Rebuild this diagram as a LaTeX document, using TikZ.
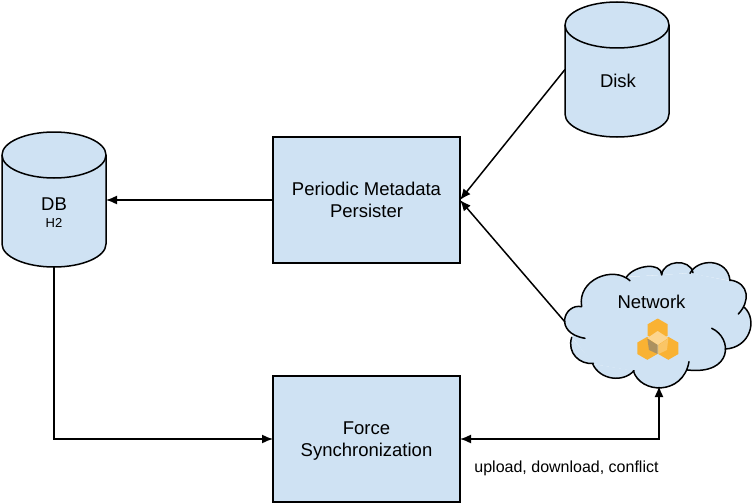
\documentclass[tikz,border=0pt]{standalone}
\usepackage{fontspec}
\setmainfont{Liberation Sans}
\usepackage[dvipsnames]{xcolor}
\usetikzlibrary{arrows.meta,positioning}
\definecolor{boxblue}{HTML}{CFE2F3}
\definecolor{hexorange}{HTML}{F9B233}
\newcommand{\cloudarcs}{
  (581.7,306.7) .. controls (564,303) and (553,333) .. (585,338.3)
  (571.7,337.3) .. controls (566.7,353) and (580,365) .. (593.3,363.3)
  (592.7,364) .. controls (600,380) and (623,383) .. (634,370.7)
  (633.3,370.7) .. controls (640,394) and (683,396) .. (689,361.7)
  (687.7,370) .. controls (733,375) and (733,338) .. (711.7,328.3)
  (725,349) .. controls (750,348) and (758,320) .. (744.3,307.3)
  (730,280) .. controls (750,283) and (750,302) .. (738.3,314)
  (690,273.3) .. controls (698,258) and (728,258) .. (730,280.7)
  (661.7,275) .. controls (663,260) and (690,258) .. (693,272.7)
  (626.7,276.7) .. controls (635,265) and (661.7,261.7) .. (661.7,275)
  (581.7,306.7) .. controls (576.7,280) and (613,265) .. (630,280.7)
}

\begin{document}
\begin{tikzpicture}[x=1pt, y=-1pt,
  procbox/.style={draw=black, fill=boxblue, line width=1.5pt, minimum width=187pt, minimum height=126pt, align=center, text depth=0pt, font=\fontsize{18.5pt}{22pt}\selectfont, outer sep=0pt, inner sep=0pt},
  storebox/.style={minimum width=104pt, minimum height=135pt, outer sep=0pt, inner sep=0pt},
  storeline/.style={draw=black, fill=boxblue, line width=1.5pt},
  lbl/.style={font=\fontsize{18.5pt}{22pt}\selectfont},
  sublbl/.style={font=\fontsize{13pt}{15pt}\selectfont},
  flow/.style={line width=1.5pt, -{Latex[length=11pt,width=9pt]}},
  puff/.style={line width=1.5pt, line cap=round},
  hexa/.style={fill=hexorange}]

\useasboundingbox (0,0) rectangle (752,503);

\node[procbox] (persister) at (366.5,200) {Periodic Metadata\\Persister};
\node[procbox] (force) at (366.5,439) {Force\\Synchronization};

\node[storebox] (db) at (54,199.5) {};
\node[storebox] (disk) at (617,69.5) {};

\foreach \s in {db,disk} {
  \draw[storeline] ([yshift=-23pt]\s.north west) -- ([yshift=23pt]\s.south west)
    arc[start angle=180, end angle=360, x radius=52pt, y radius=23pt]
    -- ([yshift=-23pt]\s.north east)
    arc[start angle=0, end angle=180, x radius=52pt, y radius=23pt] -- cycle;
  \draw[line width=1.5pt] ([yshift=-23pt]\s.north west)
    arc[start angle=180, end angle=360, x radius=52pt, y radius=23pt];
}

\node[lbl] (dblbl) at (54,204) {DB};
\node[sublbl] (dbsub) at (54,222.5) {H2};
\node[lbl] (disklbl) at (618,81) {Disk};

% cloud
\fill[boxblue] (582,307) -- (627,277) -- (662,275) -- (690,273) -- (730,281) -- (744,307) -- (745,330) -- (725,349) -- (688,370) -- (634,371) -- (593,364) -- (572,337) -- cycle;
\fill[boxblue] \cloudarcs;
\draw[puff] \cloudarcs;
\node[lbl] (network) at (651.5,302) {Network};
\coordinate (netwest) at (565,322);
\coordinate (netsouth) at (659,386);

% hexagon icon
\foreach \cx/\cy in {657.7/330,647.3/348.3,668.3/348.3} {
  \fill[hexa] (\cx,\cy-11.5) -- (\cx+10,\cy-5.75) -- (\cx+10,\cy+5.75) -- (\cx,\cy+11.5) -- (\cx-10,\cy+5.75) -- (\cx-10,\cy-5.75) -- cycle;
}
\fill[hexorange!55!white] (657.7,331) -- (668.3,338) -- (657.7,345) -- (647.3,338) -- cycle;
\fill[hexorange!55!black!70!white] (647.3,338.5) -- (657.7,345) -- (657.7,354) -- (649,350) -- cycle;
\fill[hexorange!75!white] (668.3,338.5) -- (658.5,345) -- (658.5,354) -- (667,350) -- cycle;

\draw[flow] (persister.west) -- (db.east |- persister.west);
\draw[flow] (db.south) |- (force.west);
\draw[flow] (disk.west) -- (persister.east);
\draw[flow] (netwest) -- (persister.east);
\draw[flow, {Latex[length=11pt,width=9pt]}-{Latex[length=11pt,width=9pt]}] (force.east) -| (netsouth);

\node[font=\fontsize{16pt}{18pt}\selectfont] (syncops) at (566.5,468) {upload, download, conflict};

\end{tikzpicture}
\end{document}
